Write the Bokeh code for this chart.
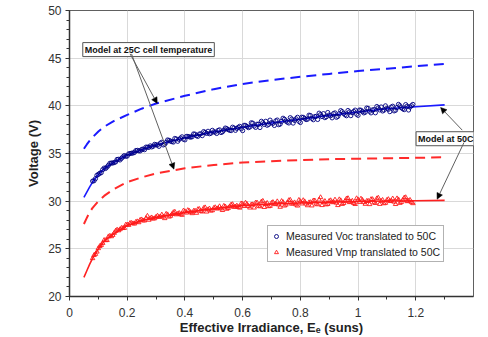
from bokeh.plotting import figure
from bokeh.models import (Range1d, SingleIntervalTicker, CustomJSTickFormatter, Label,
                          Arrow, NormalHead, Legend, LegendItem)
from bokeh.embed import file_html
from bokeh.resources import INLINE

# ---------------- data ----------------
model_e = [0.05, 0.06, 0.07, 0.08, 0.10, 0.12, 0.15, 0.20, 0.25, 0.30, 0.40, 0.50,
           0.60, 0.70, 0.80, 0.90, 1.00, 1.10, 1.20, 1.30]
voc_25c = [35.5, 35.95, 36.35, 36.7, 37.3, 37.8, 38.35, 39.05, 39.7, 40.25, 41.05, 41.75,
           42.3, 42.7, 43.05, 43.35, 43.65, 43.9, 44.15, 44.4]
vmp_25c = [27.6, 28.25, 28.85, 29.3, 30.0, 30.55, 31.2, 32.0, 32.5, 32.9, 33.45, 33.8,
           34.05, 34.2, 34.3, 34.4, 34.45, 34.5, 34.55, 34.6]
voc_50c = [30.4, 30.95, 31.5, 32.0, 32.8, 33.4, 34.0, 34.85, 35.4, 35.9, 36.65, 37.25,
           37.75, 38.2, 38.6, 39.0, 39.35, 39.7, 39.9, 40.1]
vmp_50c = [22.0, 22.7, 23.4, 24.0, 25.0, 25.8, 26.5, 27.45, 27.98, 28.3, 28.8, 29.2,
           29.53, 29.7, 29.8, 29.9, 29.97, 30.02, 30.05, 30.08]

meas_e = [0.08, 0.09, 0.10, 0.11, 0.12, 0.13, 0.14, 0.15, 0.16, 0.17,
          0.18, 0.19, 0.20, 0.21, 0.22, 0.23, 0.24, 0.25, 0.26, 0.27,
          0.28, 0.29, 0.30, 0.31, 0.32, 0.33, 0.34, 0.35, 0.36, 0.37,
          0.38, 0.39, 0.40, 0.41, 0.42, 0.43, 0.44, 0.45, 0.46, 0.47,
          0.48, 0.49, 0.50, 0.51, 0.52, 0.53, 0.54, 0.55, 0.56, 0.57,
          0.58, 0.59, 0.60, 0.61, 0.62, 0.63, 0.64, 0.65, 0.66, 0.67,
          0.68, 0.69, 0.70, 0.71, 0.72, 0.73, 0.74, 0.75, 0.76, 0.77,
          0.78, 0.79, 0.80, 0.81, 0.82, 0.83, 0.84, 0.85, 0.86, 0.87,
          0.88, 0.89, 0.90, 0.91, 0.92, 0.93, 0.94, 0.95, 0.96, 0.97,
          0.98, 0.99, 1.00, 1.01, 1.02, 1.03, 1.04, 1.05, 1.06, 1.07,
          1.08, 1.09, 1.10, 1.11, 1.12, 1.13, 1.14, 1.15, 1.16, 1.17,
          1.18, 1.19]
meas_voc = [32.10, 32.36, 32.81, 32.99, 33.47, 33.58, 33.97, 34.00, 34.12, 34.39,
            34.49, 34.78, 34.73, 35.00, 35.05, 35.31, 35.28, 35.42, 35.40, 35.66,
            35.80, 35.76, 35.91, 35.75, 36.18, 35.97, 36.42, 36.30, 36.20, 36.52,
            36.48, 36.75, 36.43, 36.79, 36.71, 37.05, 36.86, 37.04, 36.87, 37.21,
            37.33, 37.13, 37.27, 37.10, 37.48, 37.27, 37.67, 37.50, 37.40, 37.67,
            37.63, 37.85, 37.40, 37.94, 37.71, 38.22, 37.88, 38.07, 37.72, 38.23,
            38.38, 38.05, 38.24, 37.94, 38.51, 38.09, 38.70, 38.40, 38.20, 38.61,
            38.47, 38.80, 38.25, 38.79, 38.56, 39.02, 38.68, 38.87, 38.57, 39.08,
            39.18, 38.85, 39.04, 38.74, 39.26, 38.89, 39.50, 39.20, 38.96, 39.36,
            39.27, 39.55, 39.00, 39.54, 39.26, 39.77, 39.43, 39.57, 39.27, 39.78,
            39.88, 39.55, 39.74, 39.39, 39.96, 39.54, 40.15, 39.80, 39.60, 39.96,
            39.87, 40.15]
meas_vmp = [24.00, 24.45, 25.05, 25.39, 25.91, 25.90, 26.36, 26.44, 26.89, 26.92,
            27.18, 27.18, 27.53, 27.70, 27.66, 27.82, 27.77, 28.07, 27.96, 28.45,
            28.20, 28.15, 28.35, 28.33, 28.58, 28.20, 28.60, 28.45, 28.83, 28.60,
            28.75, 28.55, 28.93, 29.05, 28.83, 28.97, 28.76, 29.17, 28.90, 29.34,
            29.12, 28.99, 29.28, 29.21, 29.45, 29.05, 29.43, 29.27, 29.63, 29.38,
            29.52, 29.30, 29.71, 29.83, 29.47, 29.64, 29.31, 29.84, 29.44, 30.02,
            29.68, 29.45, 29.81, 29.67, 29.97, 29.39, 29.89, 29.62, 30.09, 29.71,
            29.86, 29.52, 29.98, 30.09, 29.72, 29.86, 29.53, 30.06, 29.65, 30.40,
            29.88, 29.64, 30.01, 29.87, 30.15, 29.57, 30.07, 29.79, 30.26, 29.88,
            30.03, 29.68, 30.15, 30.25, 29.88, 30.01, 29.67, 30.20, 29.79, 30.35,
            30.01, 29.76, 30.12, 29.99, 30.27, 29.68, 30.17, 29.90, 30.36, 29.98,
            30.12, 29.77]

# second (interleaved) half of the measured samples
meas_e2 = [0.085, 0.095, 0.105, 0.115, 0.125, 0.135, 0.145, 0.155, 0.165, 0.175,
           0.185, 0.195, 0.205, 0.215, 0.225, 0.235, 0.245, 0.255, 0.265, 0.275,
           0.285, 0.295, 0.305, 0.315, 0.325, 0.335, 0.345, 0.355, 0.365, 0.375,
           0.385, 0.395, 0.405, 0.415, 0.425, 0.435, 0.445, 0.455, 0.465, 0.475,
           0.485, 0.495, 0.505, 0.515, 0.525, 0.535, 0.545, 0.555, 0.565, 0.575,
           0.585, 0.595, 0.605, 0.615, 0.625, 0.635, 0.645, 0.655, 0.665, 0.675,
           0.685, 0.695, 0.705, 0.715, 0.725, 0.735, 0.745, 0.755, 0.765, 0.775,
           0.785, 0.795, 0.805, 0.815, 0.825, 0.835, 0.845, 0.855, 0.865, 0.875,
           0.885, 0.895, 0.905, 0.915, 0.925, 0.935, 0.945, 0.955, 0.965, 0.975,
           0.985, 0.995, 1.005, 1.015, 1.025, 1.035, 1.045, 1.055, 1.065, 1.075,
           1.085, 1.095, 1.105, 1.115, 1.125, 1.135, 1.145, 1.155, 1.165, 1.175,
           1.185]
meas_voc2 = [32.14, 32.71, 32.93, 33.30, 33.43, 33.76, 34.00, 34.05, 34.38, 34.32,
             34.64, 34.71, 34.96, 35.03, 35.11, 35.33, 35.27, 35.47, 35.67, 35.64,
             35.69, 35.96, 35.89, 36.09, 35.90, 36.17, 36.38, 36.24, 36.58, 36.28,
             36.62, 36.50, 36.79, 36.75, 36.76, 37.03, 36.80, 37.07, 37.30, 37.11,
             37.07, 37.43, 37.24, 37.42, 37.20, 37.45, 37.61, 37.44, 37.76, 37.43,
             37.75, 37.60, 37.96, 37.83, 37.78, 38.18, 37.74, 38.07, 38.38, 38.05,
             37.96, 38.50, 38.16, 38.42, 38.02, 38.37, 38.59, 38.29, 38.76, 38.19,
             38.64, 38.37, 38.81, 38.68, 38.60, 38.98, 38.54, 38.90, 39.23, 38.87,
             38.76, 39.30, 38.96, 39.19, 38.80, 39.17, 39.39, 39.06, 39.51, 38.97,
             39.41, 39.12, 39.56, 39.40, 39.33, 39.73, 39.26, 39.60, 39.93, 39.57,
             39.46, 40.00, 39.63, 39.87, 39.47, 39.82, 40.01, 39.69, 40.13, 39.56,
             40.01]
meas_vmp2 = [24.33, 24.69, 25.28, 25.60, 25.89, 26.29, 26.30, 26.66, 27.00, 27.04,
             27.16, 27.52, 27.49, 27.70, 27.63, 27.87, 28.03, 27.96, 28.21, 28.03,
             28.28, 28.19, 28.46, 28.38, 28.36, 28.66, 28.36, 28.63, 28.88, 28.66,
             28.61, 29.00, 28.78, 28.98, 28.72, 28.99, 29.15, 28.94, 29.27, 28.89,
             29.22, 29.03, 29.35, 29.25, 29.22, 29.50, 29.18, 29.44, 29.67, 29.43,
             29.37, 29.75, 29.47, 29.70, 29.31, 29.65, 29.84, 29.50, 29.94, 29.37,
             29.80, 29.49, 29.89, 29.72, 29.63, 30.00, 29.52, 29.84, 30.13, 29.76,
             29.63, 30.12, 29.74, 29.96, 29.55, 29.88, 30.06, 29.72, 30.15, 29.57,
             30.00, 29.69, 30.08, 29.91, 29.82, 30.18, 29.69, 30.01, 30.30, 29.93,
             29.79, 30.29, 29.90, 30.12, 29.70, 30.02, 30.20, 29.86, 30.28, 29.69,
             30.12, 29.81, 30.20, 30.03, 29.93, 30.28, 29.80, 30.11, 30.40, 30.02,
             29.88]

legend_labels = ["Measured Voc translated to 50C", "Measured Vmp translated to 50C"]
note_25c = "Model at 25C cell temperature"
note_50c = "Model at 50C"

# ---------------- figure ----------------
FONT = "Liberation Sans"
p = figure(width=488, height=337, x_range=Range1d(0, 1.4), y_range=Range1d(20, 50),
           output_backend="svg", toolbar_location=None,
           min_border_left=69, min_border_right=15, min_border_top=10, min_border_bottom=41)
p.background_fill_color = "white"
p.border_fill_color = "white"
p.outline_line_color = "#606060"
p.outline_line_width = 1

p.xaxis.ticker = SingleIntervalTicker(interval=0.2, num_minor_ticks=2)
p.yaxis.ticker = SingleIntervalTicker(interval=5, num_minor_ticks=5)
p.xaxis.formatter = CustomJSTickFormatter(code="return String(Math.round(tick*10)/10);")

for ax in (p.xaxis[0], p.yaxis[0]):
    ax.axis_line_color = "#333333"
    ax.axis_line_width = 1.5
    ax.major_tick_line_color = "#333333"
    ax.minor_tick_line_color = "#333333"
    ax.major_tick_in = 0
    ax.minor_tick_in = 0
    ax.major_tick_out = 4
    ax.minor_tick_out = 3
    ax.major_label_text_font = FONT
    ax.major_label_text_font_size = "12px"
    ax.major_label_text_color = "#333333"
    ax.axis_label_text_font = FONT
    ax.axis_label_text_font_style = "bold"
    ax.axis_label_text_font_size = "13px"
    ax.axis_label_text_color = "#222222"

p.xaxis.axis_label = "Effective Irradiance, E\u2091 (suns)"
p.yaxis.axis_label = "Voltage (V)"
p.xaxis.major_label_standoff = 7
p.yaxis.major_label_standoff = 4
p.xaxis.axis_label_standoff = 0
p.yaxis.axis_label_standoff = 4

p.xgrid.grid_line_color = "#d9d9d9"
p.ygrid.grid_line_color = "#d9d9d9"

# model curves
p.line(model_e, voc_25c, line_color="#1a1aff", line_width=2, line_dash="10 6")
p.line(model_e, vmp_25c, line_color="#ff2a2a", line_width=2, line_dash="10 6")
p.line(model_e, voc_50c, line_color="#1a1aff", line_width=1.6)
p.line(model_e, vmp_50c, line_color="#ff2020", line_width=1.6)

# measured
r_voc = p.scatter(meas_e, meas_voc, marker="circle", size=4.2, fill_color=None,
                  line_color="#000080", line_width=0.9)
p.scatter(meas_e2, meas_voc2, marker="circle", size=4.2, fill_color=None,
          line_color="#000080", line_width=0.9)
r_vmp = p.scatter(meas_e, meas_vmp, marker="triangle", size=4.5, fill_color=None,
                  line_color="#ff1a1a", line_width=0.9)
p.scatter(meas_e2, meas_vmp2, marker="triangle", size=4.5, fill_color=None,
          line_color="#ff1a1a", line_width=0.9)

legend = Legend(items=[LegendItem(label=legend_labels[0], renderers=[r_voc]),
                       LegendItem(label=legend_labels[1], renderers=[r_vmp])],
                location=(198, 34), orientation="vertical",
                label_text_font=FONT, label_text_font_size="10.5px",
                label_text_color="#222222", glyph_width=10, glyph_height=10,
                label_height=13, label_standoff=5, padding=3, spacing=3, margin=0,
                border_line_color="#666666", border_line_width=1,
                background_fill_color="white", background_fill_alpha=1)
p.add_layout(legend, "center")

# annotation boxes
p.add_layout(Label(x=0.046, y=45.9, text=note_25c, text_font=FONT, text_font_style="bold",
                   text_font_size="9px", text_baseline="middle", text_color="#111111",
                   background_fill_color="white", border_line_color="#555555",
                   border_line_width=1, padding=2))
p.add_layout(Label(x=1.201, y=36.55, text=note_50c, text_font=FONT, text_font_style="bold",
                   text_font_size="9px", text_baseline="middle", text_color="#111111",
                   background_fill_color="white", border_line_color="#555555",
                   border_line_width=1, padding=2))

# arrows
def arrow(xs, ys, xe, ye):
    p.add_layout(Arrow(end=NormalHead(size=6, fill_color="black", line_color="black",
                                      line_width=0.5),
                       x_start=xs, y_start=ys, x_end=xe, y_end=ye,
                       line_color="#606060", line_width=1))

arrow(0.21, 45.45, 0.304, 40.25)
arrow(0.215, 45.45, 0.362, 33.36)
arrow(1.361, 37.45, 1.286, 39.83)
arrow(1.367, 36.15, 1.274, 30.21)

open("out.html", "w").write(file_html(p, INLINE))
